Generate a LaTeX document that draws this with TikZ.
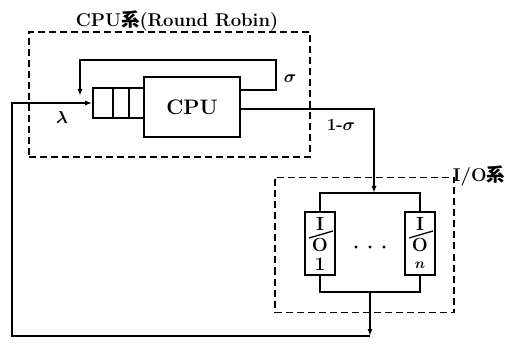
\documentclass[tikz,border=0pt]{standalone}
\usepackage{amsmath}
\usepackage{bm}
\usepackage{fontspec}
\newfontfamily\cjk{Noto Sans CJK JP}
\usetikzlibrary{arrows.meta}
\begin{document}
\begin{tikzpicture}[x=1pt,y=-1pt,
  wire/.style={line width=1.5pt},
  arr/.style={wire,-{Latex[length=7pt,width=5pt]}},
  dbox/.style={draw,line width=1.4pt,dash pattern=on 7pt off 4pt},
  blk/.style={draw,line width=1.6pt,inner sep=0pt},
  lbl/.style={font=\fontsize{18.5}{22}\selectfont\bfseries,inner sep=0pt},
  iotxt/.style={font=\fontsize{19}{21}\selectfont\bfseries,inner sep=0pt},
  dot/.style={circle,fill,inner sep=0pt,minimum size=3.4pt},
]
\useasboundingbox (0,0) rectangle (505,344);
% CPU system
\node[dbox,minimum width=281pt,minimum height=125pt] (cpusys) at (169.5,94.5) {};
\node[lbl,anchor=base] (cputitle) at (177,27) {CPU{\cjk 系}(Round Robin)};
\node[blk,minimum width=96pt,minimum height=60pt,font=\fontsize{21}{24}\selectfont\bfseries] (cpu) at (192,107) {CPU};
\node[blk,minimum width=51pt,minimum height=30pt] (queue) at (118.5,103) {};
\draw[wire] (113,88) -- (113,118);
\draw[wire] (129,88) -- (129,118);
\node[font=\fontsize{16}{18}\selectfont] (lam) at (62,118) {$\bm\lambda$};
% feedback loop
\coordinate (fb1) at (240,90);
\coordinate (fb2) at (276,90);
\coordinate (fb3) at (276,60);
\coordinate (fb4) at (80,60);
\coordinate (fb5) at (80,96);
\draw[arr] (fb1) -- (fb2) -- (fb3) -- (fb4) -- (fb5);
\node[font=\fontsize{16}{18}\selectfont] (sig) at (290,79) {$\bm\sigma$};
% output to I/O
\coordinate (o1) at (240,109);
\coordinate (o2) at (374,109);
\coordinate (o3) at (374,193);
\draw[arr] (o1) -- (o2) -- (o3);
\node[font=\fontsize{17}{19}\selectfont\bfseries,inner sep=0pt] (oneminus) at (341,125) {1-$\bm\sigma$};
% I/O system
\node[dbox,minimum width=179pt,minimum height=135pt] (iosys) at (364.5,245) {};
\node[lbl,anchor=base] (iotitle) at (479,182) {I/O{\cjk 系}};
\node[blk,minimum width=30pt,minimum height=63pt] (io1) at (320,243.5) {};
\node[blk,minimum width=30pt,minimum height=63pt] (ion) at (420,243.5) {};
\node[iotxt] (io1a) at (320,223.5) {I};
\node[iotxt] (io1b) at (320,245) {O};
\node[iotxt] (io1c) at (320,264.5) {1};
\draw[line width=1.3pt] (309,238) -- (333,231);
\node[iotxt] (ionA) at (420,223.5) {I};
\node[iotxt] (ionB) at (420,245) {O};
\node[font=\fontsize{15}{17}\selectfont,inner sep=0pt] (ionC) at (420,265) {$\bm n$};
\draw[line width=1.3pt] (409,238) -- (433,231);
\node[dot] at (356,247) {};
\node[dot] at (370,247) {};
\node[dot] at (384,247) {};
\coordinate (tb1) at (320,193);
\coordinate (tb2) at (420,193);
\coordinate (bb1) at (320,292);
\coordinate (bb2) at (420,292);
\draw[wire] (io1.north) -- (tb1) -- (tb2) -- (ion.north);
\draw[wire] (io1.south) -- (bb1) -- (bb2) -- (ion.south);
% return path
\coordinate (r1) at (370,292);
\coordinate (r2) at (370,336);
\coordinate (r3) at (12,336);
\coordinate (r4) at (12,103);
\draw[arr] (r1) -- (r2);
\draw[arr] (r2) -- (r3) -- (r4) -- (queue.west);
\end{tikzpicture}
\end{document}
